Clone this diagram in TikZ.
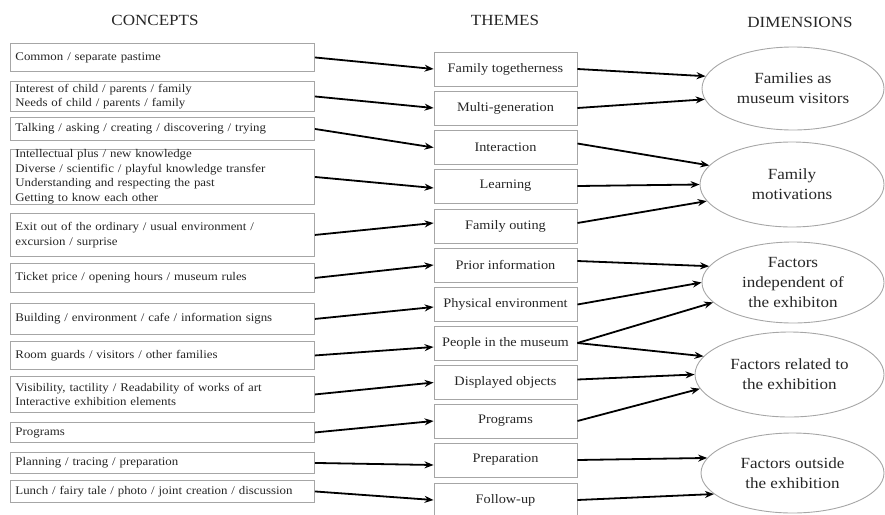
\documentclass[tikz,border=0pt]{standalone}
\usepackage{fontspec}
\setmainfont[FakeStretch=1.1]{Liberation Serif}
\usetikzlibrary{arrows.meta,shapes.geometric}
\begin{document}
\begin{tikzpicture}[x=1pt,y=-1pt,
  concept/.style={draw=gray!70, line width=0.9pt, anchor=north west, minimum width=304pt,
    text width=294pt, inner xsep=5pt, inner ysep=0pt, align=left,
    font=\fontsize{11.7}{14.5}\selectfont, text=black!85},
  theme/.style={draw=gray!70, line width=0.9pt, minimum width=143pt, minimum height=34pt,
    inner sep=0pt, font=\fontsize{13}{15}\selectfont, text=black!85},
  dim/.style={ellipse, draw=gray!70, line width=0.9pt, inner sep=0pt, align=center,
    font=\fontsize{15.5}{20}\selectfont, text=black!85},
  header/.style={font=\fontsize{15.5}{17}\selectfont, text=black!85},
  arr/.style={line width=1.8pt, -{Stealth[length=9pt,width=7pt]}}
]
\useasboundingbox (0,0) rectangle (885,514);

% headers
\node[header] (hc) at (155,20) {CONCEPTS};
\node[header] (ht) at (505,20) {THEMES};
\node[header] (hd) at (800,22) {DIMENSIONS};

% concepts
\node[concept, minimum height=28pt] (c1) at (10,43) {Common / separate pastime};
\node[concept, minimum height=30pt] (c2) at (10,81) {Interest of child / parents / family\\Needs of child / parents / family};
\node[concept, minimum height=23pt] (c3) at (10,117) {Talking / asking / creating / discovering / trying};
\node[concept, minimum height=55pt] (c4) at (10,149) {Intellectual plus / new knowledge\\Diverse / scientific / playful knowledge transfer\\Understanding and respecting the past\\Getting to know each other};
\node[concept, minimum height=43pt] (c5) at (10,213) {Exit out of the ordinary / usual environment /\\excursion / surprise};
\node[concept, minimum height=29pt] (c6) at (10,263) {Ticket price / opening hours / museum rules};
\node[concept, minimum height=31pt] (c7) at (10,303) {Building / environment / cafe / information signs};
\node[concept, minimum height=28pt] (c8) at (10,341) {Room guards / visitors / other families};
\node[concept, minimum height=36pt] (c9) at (10,376) {Visibility, tactility / Readability of works of art\\Interactive exhibition elements};
\node[concept, minimum height=20pt] (c10) at (10,422) {Programs};
\node[concept, minimum height=21pt] (c11) at (10,452) {Planning / tracing / preparation};
\node[concept, minimum height=22pt] (c12) at (10,480) {Lunch / fairy tale / photo / joint creation / discussion};

% themes
\node[theme] (t1) at (505.5,69) {Family togetherness};
\node[theme] (t2) at (505.5,108) {Multi-generation};
\node[theme] (t3) at (505.5,147.5) {Interaction};
\node[theme] (t4) at (505.5,186) {Learning};
\node[theme] (t5) at (505.5,226) {Family outing};
\node[theme] (t6) at (505.5,265) {Prior information};
\node[theme] (t7) at (505.5,304.5) {Physical environment};
\node[theme] (t8) at (505.5,343) {People in the museum};
\node[theme] (t9) at (505.5,382.5) {Displayed objects};
\node[theme] (t10) at (505.5,421) {Programs};
\node[theme] (t11) at (505.5,460) {Preparation};
\node[theme] (t12) at (505.5,500) {Follow-up};

% dimensions
\node[dim, minimum width=182pt, minimum height=83pt] (e1) at (793,88.5) {Families as\\museum visitors};
\node[dim, minimum width=184pt, minimum height=85pt] (e2) at (792,184.5) {Family\\motivations};
\node[dim, minimum width=182pt, minimum height=81pt] (e3) at (793,282.5) {Factors\\independent of\\the exhibiton};
\node[dim, minimum width=189pt, minimum height=85pt] (e4) at (789.5,374.5) {Factors related to\\the exhibition};
\node[dim, minimum width=183pt, minimum height=80pt] (e5) at (792.5,473) {Factors outside\\the exhibition};

% concept -> theme
\draw[arr] (c1.east) -- (t1.west);
\draw[arr] (c2.east) -- (t2.west);
\draw[arr] (c3.east) -- (t3.west);
\draw[arr] (c4.east) -- ([yshift=-2pt]t4.west);
\draw[arr] (c5.east) -- ([yshift=3pt]t5.west);
\draw[arr] (c6.east) -- (t6.west);
\draw[arr] (c7.east) -- ([yshift=-2.5pt]t7.west);
\draw[arr] (c8.east) -- ([yshift=-4pt]t8.west);
\draw[arr] (c9.east) -- (t9.west);
\draw[arr] (c10.east) -- (t10.west);
\draw[arr] (c11.east) -- ([yshift=-5pt]t11.west);
\draw[arr] (c12.east) -- (t12.west);

% theme -> dimension
\draw[arr] (t1.east) -- (e1.172);
\draw[arr] (t2.east) -- (e1.187);
\draw[arr] ([yshift=4pt]t3.east) -- (e2.167.7);
\draw[arr] (t4.east) -- (e2.180);
\draw[arr] ([yshift=3pt]t5.east) -- (e2.191.6);
\draw[arr] ([yshift=4pt]t6.east) -- (e3.169);
\draw[arr] (t7.east) -- (e3.180);
\draw[arr] (t8.east) -- (e3.194.2);
\draw[arr] (t8.east) -- (e4.168.3);
\draw[arr] ([yshift=3pt]t9.east) -- (e4.180);
\draw[arr] (t10.east) -- (e4.189.6);
\draw[arr] (t11.east) -- (e5.170.6);
\draw[arr] (t12.east) -- (e5.195.9);
\end{tikzpicture}
\end{document}
